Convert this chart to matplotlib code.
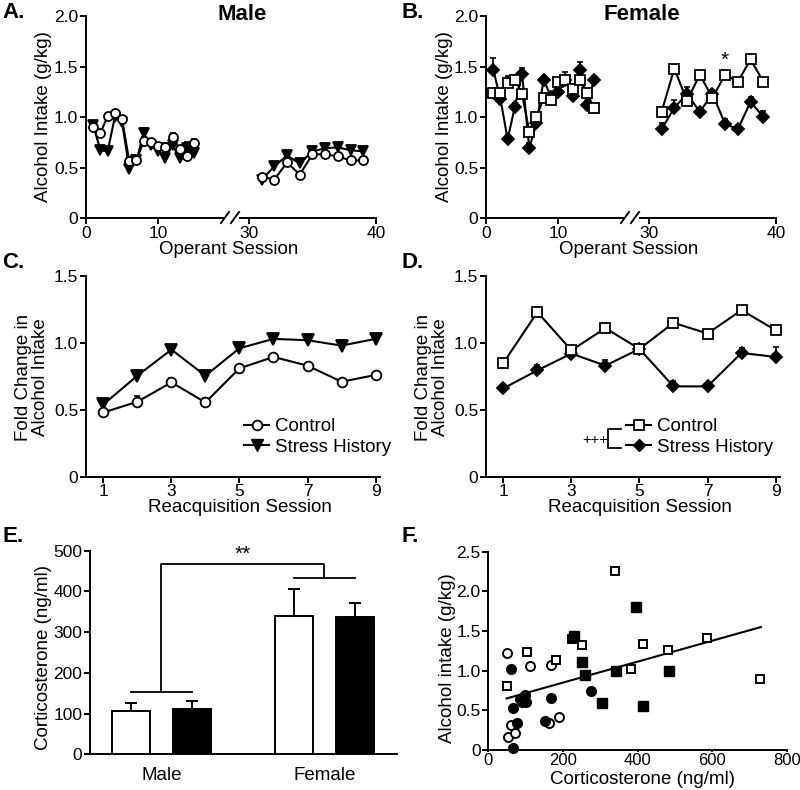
import numpy as np
import matplotlib
matplotlib.use('Agg')
import matplotlib.pyplot as plt
from matplotlib.lines import Line2D

plt.rcParams['font.family'] = ['Liberation Sans', 'DejaVu Sans']
plt.rcParams['axes.linewidth'] = 1.4
plt.rcParams['xtick.major.width'] = 1.4
plt.rcParams['ytick.major.width'] = 1.4
plt.rcParams['xtick.major.size'] = 4
plt.rcParams['ytick.major.size'] = 4
plt.rcParams['xtick.major.pad'] = 1.5
plt.rcParams['ytick.major.pad'] = 1.5
plt.rcParams['xtick.labelsize'] = 12.5
plt.rcParams['ytick.labelsize'] = 12.5

# ---- data ----
sess_early = list(range(1, 16))
sess_late = list(range(31, 40))

male_ctrl_early = [0.90, 0.84, 1.01, 1.04, 0.98, 0.56, 0.57, 0.76, 0.75, 0.71, 0.70, 0.80, 0.68, 0.61, 0.74]
male_ctrl_early_err = [0.03, 0.03, 0.03, 0.03, 0.03, 0.04, 0.03, 0.04, 0.03, 0.03, 0.04, 0.04, 0.03, 0.04, 0.04]
male_stress_early = [0.92, 0.67, 0.66, 1.00, 0.95, 0.49, 0.57, 0.84, 0.72, 0.66, 0.59, 0.72, 0.59, 0.69, 0.64]
male_stress_early_err = [0.03, 0.03, 0.03, 0.04, 0.04, 0.03, 0.03, 0.05, 0.03, 0.04, 0.04, 0.05, 0.03, 0.06, 0.03]
male_ctrl_late = [0.41, 0.38, 0.55, 0.43, 0.63, 0.63, 0.61, 0.57, 0.57]
male_ctrl_late_err = [0.03, 0.03, 0.04, 0.03, 0.03, 0.03, 0.03, 0.03, 0.03]
male_stress_late = [0.38, 0.51, 0.62, 0.54, 0.66, 0.69, 0.70, 0.67, 0.66]
male_stress_late_err = [0.03, 0.04, 0.04, 0.04, 0.03, 0.03, 0.03, 0.04, 0.04]

female_ctrl_early = [1.24, 1.24, 1.34, 1.37, 1.23, 0.855, 1.00, 1.19, 1.17, 1.35, 1.37, 1.28, 1.37, 1.24, 1.09]
female_ctrl_early_err = [0.04, 0.03, 0.07, 0.04, 0.03, 0.05, 0.03, 0.03, 0.03, 0.04, 0.03, 0.04, 0.04, 0.04, 0.03]
female_stress_early = [1.47, 1.18, 0.78, 1.10, 1.43, 0.69, 0.94, 1.37, 1.20, 1.25, 1.37, 1.21, 1.47, 1.12, 1.37]
female_stress_early_err = [0.11, 0.04, 0.04, 0.04, 0.06, 0.05, 0.04, 0.04, 0.04, 0.04, 0.08, 0.04, 0.07, 0.04, 0.04]
female_ctrl_late = [1.05, 1.48, 1.16, 1.42, 1.19, 1.42, 1.35, 1.57, 1.35]
female_ctrl_late_err = [0.03, 0.03, 0.03, 0.04, 0.03, 0.03, 0.03, 0.03, 0.03]
female_stress_late = [0.88, 1.09, 1.23, 1.05, 1.23, 0.93, 0.88, 1.15, 1.00]
female_stress_late_err = [0.06, 0.08, 0.07, 0.04, 0.04, 0.05, 0.03, 0.05, 0.06]

reacq = list(range(1, 10))
male_fold_ctrl = [0.48, 0.56, 0.705, 0.555, 0.81, 0.895, 0.83, 0.71, 0.76]
male_fold_ctrl_err = [0.02, 0.04, 0.03, 0.03, 0.02, 0.02, 0.02, 0.02, 0.02]
male_fold_stress = [0.54, 0.755, 0.95, 0.755, 0.96, 1.03, 1.02, 0.98, 1.03]
male_fold_stress_err = [0.02, 0.03, 0.02, 0.02, 0.02, 0.04, 0.03, 0.04, 0.04]
female_fold_ctrl = [0.85, 1.23, 0.945, 1.11, 0.955, 1.15, 1.07, 1.245, 1.095]
female_fold_ctrl_err = [0.02, 0.02, 0.02, 0.02, 0.02, 0.02, 0.02, 0.02, 0.02]
female_fold_stress = [0.66, 0.795, 0.92, 0.83, 0.955, 0.675, 0.675, 0.925, 0.895]
female_fold_stress_err = [0.03, 0.04, 0.02, 0.04, 0.02, 0.04, 0.02, 0.04, 0.075]

sex_labels = ['Male', 'Female']
cort_ctrl = [106, 340]
cort_ctrl_err = [21, 65]
cort_stress = [111, 336]
cort_stress_err = [21, 35]

m_ctrl_cort = [49, 54, 62, 71, 112, 163, 169, 190]
m_ctrl_etoh = [1.22, 0.17, 0.31, 0.21, 1.06, 0.34, 1.07, 0.41]
m_stress_cort = [60, 66, 76, 66, 85, 97, 102, 90, 153, 169, 276]
m_stress_etoh = [1.02, 0.53, 0.34, 0.03, 0.64, 0.69, 0.61, 0.60, 0.36, 0.65, 0.75]
f_ctrl_cort = [49, 103, 181, 223, 250, 338, 383, 415, 480, 587, 728]
f_ctrl_etoh = [0.81, 1.23, 1.14, 1.40, 1.32, 2.26, 1.02, 1.34, 1.26, 1.41, 0.89]
f_stress_cort = [230, 250, 259, 304, 342, 395, 415, 485]
f_stress_etoh = [1.44, 1.11, 0.95, 0.59, 1.00, 1.80, 0.55, 1.00]
fit_x = [49, 730]
fit_y = [0.65, 1.55]

W, H = 800, 790
fig = plt.figure(figsize=(8, 7.9), dpi=100)


def fx(px):
    return px / W


def fy(py):
    return 1 - py / H


def clean(ax):
    ax.spines['top'].set_visible(False)
    ax.spines['right'].set_visible(False)


def series(ax, x, y, err, marker, face, ms):
    ax.errorbar(x, y, yerr=[np.zeros(len(err)), err], fmt='none', ecolor='k',
                elinewidth=1.2, capsize=2.5, capthick=1.2, zorder=2)
    ax.plot(x, y, color='k', lw=1.5, marker=marker, mfc=face, mec='k',
            mew=1.3, ms=ms, zorder=3, clip_on=False)


def broken_panel(x0, ctrl_e, ctrl_e_err, st_e, st_e_err, ctrl_l, ctrl_l_err, st_l, st_l_err,
                 ctrl_mk, st_mk, ms_c, ms_s):
    a1 = fig.add_axes([fx(x0), fy(218), fx(137), 202 / H])
    a2 = fig.add_axes([fx(x0 + 154), fy(218), fx(136), 202 / H])
    for a in (a1, a2):
        clean(a)
        a.set_ylim(0, 2.0)
    a2.spines['left'].set_visible(False)
    a2.set_yticks([])
    a1.set_xlim(0, 19)
    a2.set_xlim(29.3, 40)
    a1.set_xticks([0, 10])
    a2.set_xticks([30, 40])
    a1.set_yticks([0, 0.5, 1.0, 1.5, 2.0])
    a1.set_yticklabels(['0', '0.5', '1.0', '1.5', '2.0'])
    series(a1, sess_early, st_e, st_e_err, st_mk, 'k', ms_s)
    series(a1, sess_early, ctrl_e, ctrl_e_err, ctrl_mk, 'white', ms_c)
    series(a2, sess_late, st_l, st_l_err, st_mk, 'k', ms_s)
    series(a2, sess_late, ctrl_l, ctrl_l_err, ctrl_mk, 'white', ms_c)
    # break marks
    for dx in (0, 10):
        fig.add_artist(Line2D([fx(x0 + 135 + dx), fx(x0 + 143 + dx)], [fy(223), fy(212)],
                              color='k', lw=1.4))
    fig.text(fx(x0 + 143), fy(249), 'Operant Session', ha='center', va='center', fontsize=13.5)
    fig.text(fx(x0 - 42), fy(117), 'Alcohol Intake (g/kg)', rotation=90,
             ha='center', va='center', fontsize=13.5)
    return a1, a2


# ---- A ----
broken_panel(86, male_ctrl_early, male_ctrl_early_err, male_stress_early, male_stress_early_err,
             male_ctrl_late, male_ctrl_late_err, male_stress_late, male_stress_late_err,
             'o', 'v', 6.5, 7.5)
fig.text(fx(242), fy(14), 'Male', ha='center', va='center', fontsize=16, fontweight='bold')
fig.text(fx(2), fy(13), 'A.', ha='left', va='center', fontsize=16, fontweight='bold')

# ---- B ----
bA, bB = broken_panel(486, female_ctrl_early, female_ctrl_early_err, female_stress_early, female_stress_early_err,
                      female_ctrl_late, female_ctrl_late_err, female_stress_late, female_stress_late_err,
                      's', 'D', 6.5, 6.5)
bB.text(36, 1.56, '*', ha='center', va='center', fontsize=15)
fig.text(fx(642), fy(14), 'Female', ha='center', va='center', fontsize=16, fontweight='bold')
fig.text(fx(402), fy(13), 'B.', ha='left', va='center', fontsize=16, fontweight='bold')


# ---- C / D ----
def fold_panel(x0, ctrl, ctrl_err, st, st_err, ctrl_mk, st_mk, ms_s):
    ax = fig.add_axes([fx(x0), fy(476.7), fx(294), 200.7 / H])
    clean(ax)
    ax.set_xlim(0.49, 9.13)
    ax.set_ylim(0, 1.5)
    ax.set_xticks([1, 3, 5, 7, 9])
    ax.set_yticks([0, 0.5, 1.0, 1.5])
    ax.set_yticklabels(['0', '0.5', '1.0', '1.5'])
    series(ax, reacq, st, st_err, st_mk, 'k', ms_s)
    series(ax, reacq, ctrl, ctrl_err, ctrl_mk, 'white', 7)
    fig.text(fx(x0 + 154), fy(507), 'Reacquisition Session', ha='center', va='center', fontsize=13.5)
    fig.text(fx(x0 - 54), fy(377), 'Fold Change in\nAlcohol Intake', rotation=90,
             ha='center', va='center', fontsize=13.5, linespacing=1.05)
    return ax


axC = fold_panel(86, male_fold_ctrl, male_fold_ctrl_err, male_fold_stress, male_fold_stress_err, 'o', 'v', 8)
h1 = Line2D([], [], color='k', lw=1.5, marker='o', mfc='white', mec='k', mew=1.3, ms=7)
h2 = Line2D([], [], color='k', lw=1.5, marker='v', mfc='k', mec='k', ms=8)
axC.legend([h1, h2], ['Control', 'Stress History'], loc='upper left',
           bbox_to_anchor=(fx(244), fy(418)), bbox_transform=fig.transFigure,
           frameon=False, fontsize=13.5, handlelength=1.35, handletextpad=0.3,
           labelspacing=0.2, borderpad=0, borderaxespad=0)
fig.text(fx(2), fy(263), 'C.', ha='left', va='center', fontsize=16, fontweight='bold')

axD = fold_panel(486, female_fold_ctrl, female_fold_ctrl_err, female_fold_stress, female_fold_stress_err, 's', 'D', 6.5)
h3 = Line2D([], [], color='k', lw=1.5, marker='s', mfc='white', mec='k', mew=1.3, ms=7)
h4 = Line2D([], [], color='k', lw=1.5, marker='D', mfc='k', mec='k', ms=6.5)
axD.legend([h3, h4], ['Control', 'Stress History'], loc='upper left',
           bbox_to_anchor=(fx(626), fy(418)), bbox_transform=fig.transFigure,
           frameon=False, fontsize=13.5, handlelength=1.35, handletextpad=0.3,
           labelspacing=0.2, borderpad=0, borderaxespad=0)
fig.add_artist(Line2D([fx(621), fx(608), fx(608), fx(621)], [fy(429), fy(429), fy(448), fy(448)],
                      color='k', lw=1.3))
fig.text(fx(595), fy(440), '+++', ha='center', va='center', fontsize=10.5)
fig.text(fx(402), fy(263), 'D.', ha='left', va='center', fontsize=16, fontweight='bold')

# ---- E ----
axE = fig.add_axes([fx(90), fy(754.3), fx(307), 203.6 / H])
clean(axE)
grp = np.array([0, 2.67])
bw = 0.63
axE.bar(grp - 0.5, cort_ctrl, bw, color='white', edgecolor='k', lw=1.4, zorder=3)
axE.bar(grp + 0.5, cort_stress, bw, color='k', edgecolor='k', lw=1.4, zorder=3)
axE.errorbar(grp - 0.5, cort_ctrl, yerr=[np.zeros(2), cort_ctrl_err], fmt='none', ecolor='k',
             elinewidth=1.4, capsize=4.5, capthick=1.4, zorder=2)
axE.errorbar(grp + 0.5, cort_stress, yerr=[np.zeros(2), cort_stress_err], fmt='none', ecolor='k',
             elinewidth=1.4, capsize=4.5, capthick=1.4, zorder=2)
axE.set_xlim(-1.17, 3.86)
axE.set_ylim(0, 500)
axE.set_yticks([0, 100, 200, 300, 400, 500])
axE.set_xticks(grp)
axE.set_xticklabels(sex_labels, fontsize=13.5)
axE.tick_params(axis='x', length=0, pad=9)
axE.plot([-0.5, 0.5], [152, 152], color='k', lw=1.3, clip_on=False)
axE.plot([0, 0, grp[1], grp[1]], [152, 468, 468, 434], color='k', lw=1.3, clip_on=False)
axE.plot([grp[1] - 0.5, grp[1] + 0.5], [434, 434], color='k', lw=1.3, clip_on=False)
axE.text(grp[1] / 2, 492, '**', ha='center', va='center', fontsize=15)
fig.text(fx(44), fy(657), 'Corticosterone (ng/ml)', rotation=90, ha='center', va='center', fontsize=13.5)
fig.text(fx(2), fy(537), 'E.', ha='left', va='center', fontsize=16, fontweight='bold')

# ---- F ----
axF = fig.add_axes([fx(488.3), fy(750), fx(298.7), 198.3 / H])
clean(axF)
axF.plot(m_ctrl_cort, m_ctrl_etoh, 'o', mfc='white', mec='k', mew=1.4, ms=6.5, clip_on=False, zorder=3)
axF.plot(m_stress_cort, m_stress_etoh, 'o', mfc='k', mec='k', ms=7, clip_on=False, zorder=3)
axF.plot(f_ctrl_cort, f_ctrl_etoh, 's', mfc='white', mec='k', mew=1.4, ms=6, clip_on=False, zorder=3)
axF.plot(f_stress_cort, f_stress_etoh, 's', mfc='k', mec='k', ms=6.5, clip_on=False, zorder=3)
axF.plot(fit_x, fit_y, color='k', lw=1.5, zorder=2)
axF.set_xlim(0, 800)
axF.set_ylim(0, 2.5)
axF.set_xticks([0, 200, 400, 600, 800])
axF.set_yticks([0, 0.5, 1.0, 1.5, 2.0, 2.5])
axF.set_yticklabels(['0', '0.5', '1.0', '1.5', '2.0', '2.5'])
axF.tick_params(axis='x', length=1.5, pad=0.5, labelsize=12)
fig.text(fx(642), fy(779), 'Corticosterone (ng/ml)', ha='center', va='center', fontsize=13.5)
fig.text(fx(447), fy(658), 'Alcohol intake (g/kg)', rotation=90, ha='center', va='center', fontsize=13.5)
fig.text(fx(402), fy(537), 'F.', ha='left', va='center', fontsize=16, fontweight='bold')

fig.savefig('out.png', dpi=100, facecolor='white')
